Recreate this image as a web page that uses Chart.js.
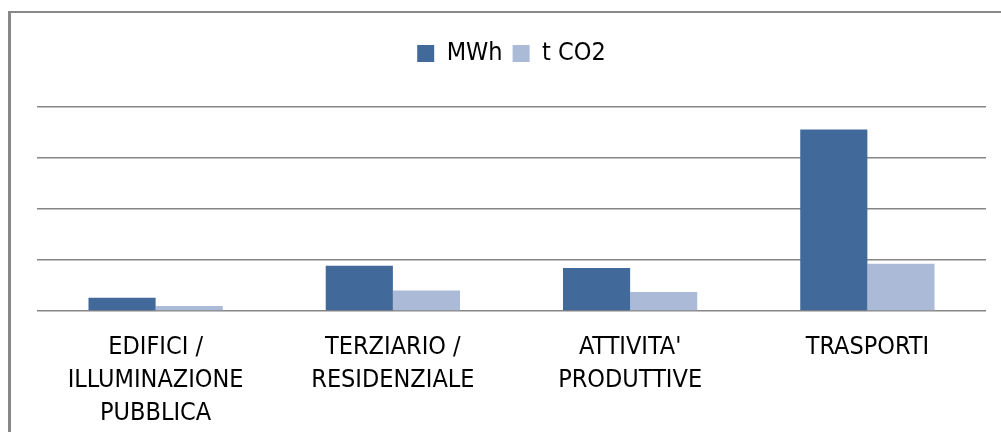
<!DOCTYPE html>
<html>
<head>
<meta charset="utf-8">
<script src="https://cdn.jsdelivr.net/npm/chart.js@4"></script>
<style>
    html, body { margin: 0; padding: 0; background: #fff; }
    #wrap { position: relative; width: 1001px; height: 432px; overflow: hidden; }
    #cornice { position: absolute; left: 8px; top: 11px; width: 1100px; height: 600px; border-left: 3px solid #888; border-top: 2px solid #888; pointer-events: none; }
    canvas { position: absolute; left: 0; top: 0; }
</style>
</head>
<body>
<div id="wrap">
    <div id="cornice"></div>
    <canvas id="grafico" width="1001" height="432"></canvas>
</div>
<script>
const settori = [
    ['EDIFICI /', 'ILLUMINAZIONE', 'PUBBLICA'],
    ['TERZIARIO /', 'RESIDENZIALE'],
    ["ATTIVITA'", 'PRODUTTIVE'],
    'TRASPORTI'
];
const mwh = [2600, 8850, 8450, 35600];
const tco2 = [1000, 4000, 3750, 9250];
const asseMax = 40000;
const asseStep = 10000;

const fonte = "'Liberation Sans Narrow', 'DejaVu Sans Condensed', 'Liberation Sans', sans-serif";

// spazio extra sotto la legenda
const margineLegenda = {
    id: 'margineLegenda',
    beforeInit(chart) {
        const fit = chart.legend.fit;
        chart.legend.fit = function () {
            fit.bind(chart.legend)();
            this.height += 31;
        };
    }
};

const ctx = document.getElementById('grafico');
new Chart(ctx, {
    type: 'bar',
    data: {
        labels: settori,
        datasets: [{
            label: 'MWh',
            data: mwh,
            backgroundColor: '#416a9b'
        }, {
            label: 't CO2',
            data: tco2,
            backgroundColor: '#abbad7'
        }]
    },
    options: {
        responsive: false,
        animation: false,
        categoryPercentage: 0.566,
        barPercentage: 1,
        layout: {
            padding: { left: 37, right: 15, top: 31, bottom: 0 }
        },
        plugins: {
            tooltip: { enabled: false },
            legend: {
                position: 'top',
                labels: {
                    boxWidth: 17,
                    boxHeight: 17,
                    padding: 10,
                    color: '#000',
                    font: { family: fonte, size: 25 }
                }
            }
        },
        scales: {
            x: {
                grid: { display: false, drawTicks: false },
                border: { display: false },
                ticks: {
                    color: '#000',
                    padding: 20,
                    maxRotation: 0,
                    autoSkip: false,
                    font: { family: fonte, size: 25, lineHeight: 1.32 }
                },
                afterFit: s => { s.height = 121; }
            },
            y: {
                min: 0,
                max: asseMax,
                ticks: { display: false, stepSize: asseStep },
                grid: { color: '#868686', lineWidth: 1.5, drawTicks: false },
                border: { display: false },
                afterFit: s => { s.width = 0; }
            }
        }
    },
    plugins: [margineLegenda]
});
</script>
</body>
</html>
